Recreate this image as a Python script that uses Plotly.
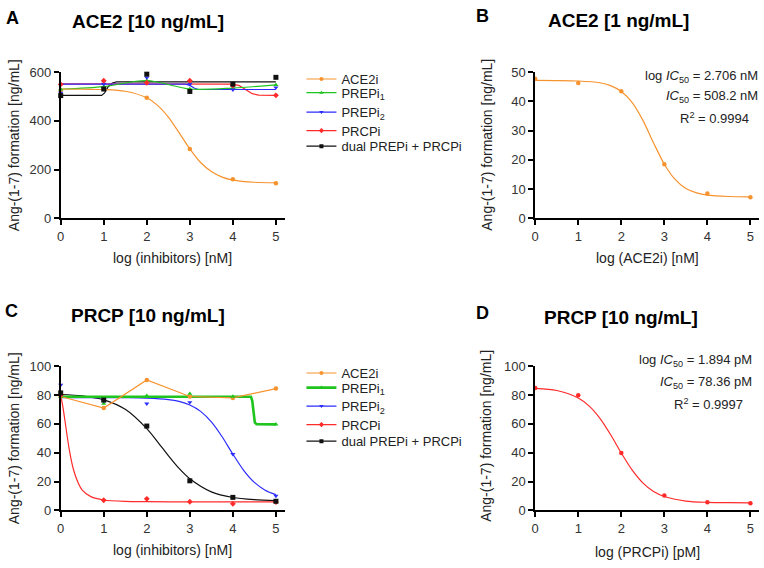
import plotly.graph_objects as go

W, H = 764, 568
FONT = "Liberation Sans, Arial, Helvetica, sans-serif"
TXT = "#222222"

# ---------------- data ----------------
X = [0, 1, 2, 3, 4, 5]
X_TICKS = [0, 1, 2, 3, 4, 5]
SERIES = ["ACE2i", "PREPi<sub>1</sub>", "PREPi<sub>2</sub>", "PRCPi", "dual PREPi + PRCPi"]
COLORS = ["#F7932F", "#1FC41F", "#2B2BFF", "#FF2A2A", "#111111"]
SYMBOLS = ["circle", "triangle-up", "triangle-down", "diamond", "square"]

# Panel A  (ACE2 10 ng/mL), measured points
A_ACE2I = [525, 531, 495, 285, 160, 144]
A_PREPI1 = [530, 541, 566, 531, 535, 548]
A_PREPI2 = [515, 552, 578, 551, 528, 537]
A_PRCPI = [550, 565, 557, 565, 545, 505]
A_DUAL = [504, 531, 592, 521, 551, 579]
# Panel A fitted curves
A_ACE2I_CX = [0, 0.5, 1, 1.5, 2, 2.25, 2.5, 2.75, 3, 3.25, 3.5, 3.75, 4, 4.5, 5]
A_ACE2I_CY = [531, 530, 529, 522, 495, 464, 416, 352, 285, 229, 192, 169, 157, 148, 146]
A_PREPI1_CX = [0, 1, 2, 3, 4, 5]
A_PREPI1_CY = [530, 541, 566, 531, 535, 548]
A_PREPI2_CX = [0, 2.9, 3.0, 3.1, 3.2, 5]
A_PREPI2_CY = [551, 551, 546, 535, 529, 529]
A_PRCPI_CX = [0, 4.0, 4.15, 4.3, 4.45, 4.6, 5]
A_PRCPI_CY = [552, 551, 545, 528, 512, 506, 505]
A_DUAL_CX = [0, 0.95, 1.02, 1.1, 1.2, 1.3, 5]
A_DUAL_CY = [505, 505, 515, 540, 556, 560, 560]

# Panel B  (ACE2 1 ng/mL)
B_ACE2I = [47.8, 46.3, 43.5, 18.5, 8.5, 7.2]
B_CX = [0, 0.5, 1, 1.5, 1.75, 2, 2.25, 2.5, 2.75, 3, 3.25, 3.5, 3.75, 4, 4.5, 5]
B_CY = [47.2, 47.15, 47.0, 46.4, 45.4, 43.4, 39.7, 33.6, 25.8, 18.5, 13.3, 10.2, 8.7, 7.9, 7.45, 7.35]

# Panel C  (PRCP 10 ng/mL), measured points
C_ACE2I = [79, 71, 90.5, 79, 78, 84.5]
C_PREPI1 = [79, 74, 79.5, 81, 79, 59.7]
C_PREPI2 = [87, 76, 74, 75, 39, 10]
C_PRCPI = [80, 7, 8, 6, 4.5, 5.8]
C_DUAL = [81.5, 76.5, 58.5, 20.5, 9, 6.3]
# Panel C curves
C_PREPI1_CX = [0, 4.42, 4.45, 4.48, 4.51, 4.55, 5]
C_PREPI1_CY = [78.8, 78.8, 76, 68, 61, 59.8, 59.7]
C_PREPI2_CX = [0, 1, 1.5, 2, 2.5, 2.75, 3, 3.25, 3.5, 3.75, 4, 4.25, 4.5, 4.75, 5]
C_PREPI2_CY = [78.3, 78.3, 78.2, 77.9, 76.9, 75.6, 73.1, 68.7, 61.4, 51.1, 39.0, 27.8, 19.4, 14.0, 10.9]
C_PRCPI_CX = [0, 0.05, 0.1, 0.2, 0.3, 0.4, 0.5, 0.7, 1, 1.5, 2, 3, 4, 5]
C_PRCPI_CY = [80, 72, 62, 42, 28, 19.5, 14, 9.5, 7.2, 6.2, 6, 5.9, 5.9, 5.9]
C_DUAL_CX = [0, 0.5, 1, 1.5, 2, 2.25, 2.5, 2.75, 3, 3.5, 4, 4.5, 5]
C_DUAL_CY = [80.4, 79.4, 76.7, 70.1, 56.7, 47.6, 38.0, 29.1, 21.9, 12.8, 8.9, 7.4, 6.8]

# Panel D  (PRCP 10 ng/mL, PRCPi)
D_PRCPI = [84.9, 79.9, 39.8, 10.3, 5.7, 5.0]
D_CX = [0, 0.5, 1, 1.25, 1.5, 1.75, 2, 2.25, 2.5, 2.75, 3, 3.5, 4, 4.5, 5]
D_CY = [84.7, 83.2, 78.0, 72.5, 64.0, 52.6, 39.8, 28.1, 19.1, 13.1, 9.6, 6.45, 5.55, 5.3, 5.25]

A_TICKS = [0, 200, 400, 600]
B_TICKS = [0, 10, 20, 30, 40, 50]
C_TICKS = [0, 20, 40, 60, 80, 100]
D_TICKS = [0, 20, 40, 60, 80, 100]

# ---------------- helpers ----------------
def fx(p):
    return p / W


def fy(p):
    return 1 - p / H


fig = go.Figure()


def curve(xs, ys, color, ax, width=1.2, shape="spline"):
    fig.add_trace(go.Scatter(x=xs, y=ys, mode="lines", xaxis=ax[0], yaxis=ax[1],
                             line=dict(color=color, width=width, shape=shape, smoothing=0.8),
                             showlegend=False, cliponaxis=False, hoverinfo="skip"))


def points(ys, color, symbol, ax):
    size = 5 if symbol == "square" else 4.5
    fig.add_trace(go.Scatter(x=X, y=ys, mode="markers", xaxis=ax[0], yaxis=ax[1],
                             marker=dict(color=color, symbol=symbol, size=size, line=dict(width=0)),
                             showlegend=False, cliponaxis=False))


def legend_entry(name, color, symbol, ax, legend, width=1.2):
    fig.add_trace(go.Scatter(x=[None], y=[None], mode="lines+markers", name=name,
                             xaxis=ax[0], yaxis=ax[1], legend=legend,
                             line=dict(color=color, width=width),
                             marker=dict(color=color, symbol=symbol, size=4)))


AX_A = ("x", "y")
AX_B = ("x2", "y2")
AX_C = ("x3", "y3")
AX_D = ("x4", "y4")

# Panel A
curve(A_DUAL_CX, A_DUAL_CY, COLORS[4], AX_A, shape="linear")
curve(A_PRCPI_CX, A_PRCPI_CY, COLORS[3], AX_A, shape="linear")
curve(A_PREPI2_CX, A_PREPI2_CY, COLORS[2], AX_A, shape="linear")
curve(A_PREPI1_CX, A_PREPI1_CY, COLORS[1], AX_A)
curve(A_ACE2I_CX, A_ACE2I_CY, COLORS[0], AX_A)
for ys, c, s in zip([A_ACE2I, A_PREPI1, A_PREPI2, A_PRCPI, A_DUAL], COLORS, SYMBOLS):
    points(ys, c, s, AX_A)

# Panel B
curve(B_CX, B_CY, COLORS[0], AX_B)
points(B_ACE2I, COLORS[0], "circle", AX_B)

# Panel C
curve(C_DUAL_CX, C_DUAL_CY, COLORS[4], AX_C)
curve(C_PRCPI_CX, C_PRCPI_CY, COLORS[3], AX_C)
curve(C_PREPI2_CX, C_PREPI2_CY, COLORS[2], AX_C)
curve(C_PREPI1_CX, C_PREPI1_CY, COLORS[1], AX_C, width=2.6, shape="linear")
curve(X, C_ACE2I, COLORS[0], AX_C, shape="linear")
for ys, c, s in zip([C_ACE2I, C_PREPI1, C_PREPI2, C_PRCPI, C_DUAL], COLORS, SYMBOLS):
    points(ys, c, s, AX_C)

# Panel D
curve(D_CX, D_CY, COLORS[3], AX_D)
points(D_PRCPI, COLORS[3], "circle", AX_D)

# Legends (one legend per entry so the spacing can follow the original)
LEG_A_Y = [74, 88, 108, 127, 143]
LEG_C_Y = [376, 391, 410, 429, 446]
LEG_X = 299
legend_layouts = {}
n = 1
for k in range(5):
    lname = "legend" if n == 1 else f"legend{n}"
    legend_entry(SERIES[k], COLORS[k], SYMBOLS[k], AX_A, lname)
    legend_layouts[lname] = dict(x=fx(LEG_X), y=fy(LEG_A_Y[k]), xanchor="left", yanchor="middle",
                                 bgcolor="rgba(0,0,0,0)", borderwidth=0,
                                 font=dict(family=FONT, size=13, color=TXT))
    n += 1
for k in range(5):
    lname = f"legend{n}"
    legend_entry(SERIES[k], COLORS[k], SYMBOLS[k], AX_C, lname, width=2.6 if k == 1 else 1.2)
    legend_layouts[lname] = dict(x=fx(LEG_X), y=fy(LEG_C_Y[k]), xanchor="left", yanchor="middle",
                                 bgcolor="rgba(0,0,0,0)", borderwidth=0,
                                 font=dict(family=FONT, size=13, color=TXT))
    n += 1

# Axes
LEFT = [fx(57), fx(282)]
RIGHT = [fx(534), fx(759)]
TOP = [fy(217), fy(67)]
BOTTOM = [fy(517), fy(369)]


def xaxis(domain, anchor):
    return dict(domain=domain, anchor=anchor, range=[0, 5.2], tickvals=X_TICKS,
                showline=True, linecolor="black", linewidth=1.6, ticks="outside",
                ticklen=5, tickwidth=1.5, tickcolor="black", showgrid=False, zeroline=False,
                tickfont=dict(family=FONT, size=13, color="#333333"), fixedrange=True)


def yaxis(domain, anchor, rng, ticks):
    return dict(domain=domain, anchor=anchor, range=rng, tickvals=ticks,
                showline=True, linecolor="black", linewidth=1.6, ticks="outside",
                ticklen=5, tickwidth=1.5, tickcolor="black", showgrid=False, zeroline=False,
                tickfont=dict(family=FONT, size=13, color="#333333"), fixedrange=True)


annotations = []


def text(s, x, y, size=14, bold=False, xanchor="center", angle=0, color=TXT):
    annotations.append(dict(text=f"<b>{s}</b>" if bold else s, x=fx(x), y=fy(y),
                            xref="paper", yref="paper", showarrow=False,
                            xanchor=xanchor, yanchor="middle", textangle=angle,
                            font=dict(family=FONT, size=size, color=color)))


# titles and letters
text("A", 9, 11, size=18, bold=True, color="black")
text("B", 481, 9, size=18, bold=True, color="black")
text("C", 8, 312, size=18, bold=True, color="black")
text("D", 481, 314, size=18, bold=True, color="black")
text("ACE2 [10 ng/mL]", 145, 15, size=19, bold=True, color="black")
text("ACE2 [1 ng/mL]", 618, 14, size=19, bold=True, color="black")
text("PRCP [10 ng/mL]", 145, 317, size=19, bold=True, color="black")
text("PRCP [10 ng/mL]", 620, 319, size=19, bold=True, color="black")

# axis titles
YT = "Ang-(1-7) formation [ng/mL]"
text(YT, 10, 142, angle=-90)
text(YT, 486, 141, angle=-90)
text(YT, 10, 443, angle=-90)
text(YT, 485, 440, angle=-90)
text("log (inhibitors) [nM]", 169, 258)
text("log (ACE2i) [nM]", 647, 258)
text("log (inhibitors) [nM]", 169, 558)
text("log (PRCPi) [pM]", 647, 560)

# fit statistics
text("log <i>IC</i><sub>50</sub> = 2.706 nM", 760, 71, size=13, xanchor="right")
text("<i>IC</i><sub>50</sub> = 508.2 nM", 760, 92, size=13, xanchor="right")
text("R<sup>2</sup> = 0.9994", 714, 114, size=13)
text("log <i>IC</i><sub>50</sub> = 1.894 pM", 754, 363, size=13, xanchor="right")
text("<i>IC</i><sub>50</sub> = 78.36 pM", 754, 386, size=13, xanchor="right")
text("R<sup>2</sup> = 0.9997", 708, 408, size=13)

fig.update_layout(
    width=W, height=H, margin=dict(l=0, r=0, t=0, b=0),
    paper_bgcolor="white", plot_bgcolor="white",
    font=dict(family=FONT, size=13, color=TXT),
    xaxis=xaxis(LEFT, "y"), yaxis=yaxis(TOP, "x", [0, 600], A_TICKS),
    xaxis2=xaxis(RIGHT, "y2"), yaxis2=yaxis(TOP, "x2", [0, 50], B_TICKS),
    xaxis3=xaxis(LEFT, "y3"), yaxis3=yaxis(BOTTOM, "x3", [0, 100], C_TICKS),
    xaxis4=xaxis(RIGHT, "y4"), yaxis4=yaxis(BOTTOM, "x4", [0, 100], D_TICKS),
    annotations=annotations,
    **legend_layouts,
)

fig.write_html("out.html")
